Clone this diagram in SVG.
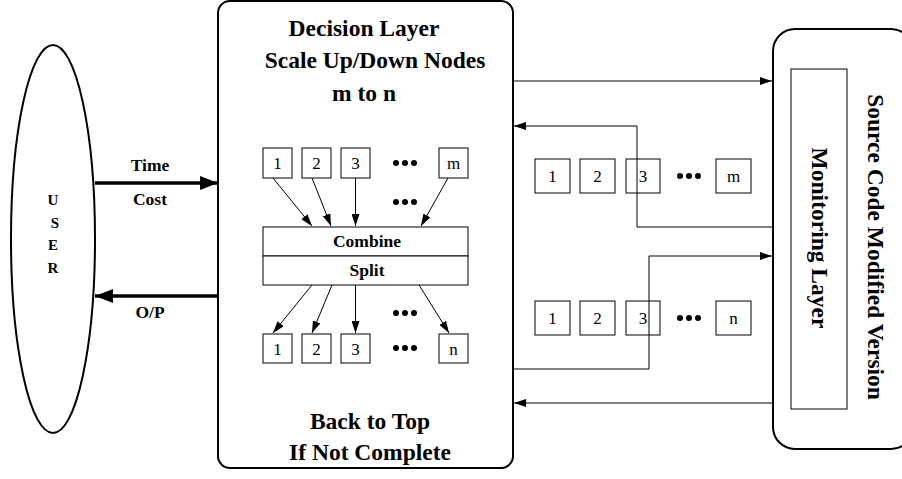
<svg xmlns="http://www.w3.org/2000/svg" width="902" height="479" viewBox="0 0 902 479">
<defs>
<style>
.t{font-family:"Liberation Serif","Times New Roman",serif;font-weight:bold;fill:#000;text-anchor:middle}
.big{font-size:23.5px}
.lab{font-size:17.5px}
.n{font-family:"Liberation Serif","Times New Roman",serif;font-size:17px;fill:#000;text-anchor:middle}
.box{fill:#fff;stroke:#000;stroke-width:1}
.ln{fill:none;stroke:#000;stroke-width:1}
.thick{fill:none;stroke:#000;stroke-width:3.5}
.outer{fill:#fff;stroke:#000;stroke-width:2}
.dot{fill:#000}
</style>
<marker id="ah" markerWidth="12" markerHeight="8" refX="12" refY="4" orient="auto" markerUnits="userSpaceOnUse">
<path d="M0,0 L12,4 L0,8 z" fill="#000"/>
</marker>
<marker id="ahb" markerWidth="18" markerHeight="14" refX="18" refY="7" orient="auto" markerUnits="userSpaceOnUse">
<path d="M0,0 L18,7 L0,14 z" fill="#000"/>
</marker>
<symbol id="dots" overflow="visible">
<circle cx="-9" cy="0" r="3"/><circle cx="0" cy="0" r="3"/><circle cx="9" cy="0" r="3"/>
</symbol>
</defs>
<rect width="902" height="479" fill="#fff"/>

<g id="user">
<ellipse cx="53" cy="239" rx="42" ry="194" fill="#fff" stroke="#000" stroke-width="2"/>
<text class="t" x="53" y="205" font-size="15">U</text>
<text class="t" x="55" y="228" font-size="15">S</text>
<text class="t" x="53" y="250" font-size="15">E</text>
<text class="t" x="53" y="273" font-size="15">R</text>
</g>

<g id="decision">
<rect class="outer" x="218" y="1" width="295" height="467" rx="12"/>
<text class="t big" x="364" y="36">Decision Layer</text>
<text class="t big" x="375" y="68">Scale Up/Down Nodes</text>
<text class="t big" x="364" y="101">m to n</text>
<text class="t big" x="370" y="429">Back to Top</text>
<text class="t big" x="370" y="460">If Not Complete</text>
</g>

<g id="top-nodes">
<rect class="box" x="263" y="148" width="29" height="30"/><text class="n" x="277.5" y="169">1</text>
<rect class="box" x="302" y="148" width="29" height="30"/><text class="n" x="316.5" y="169">2</text>
<rect class="box" x="341" y="148" width="29" height="30"/><text class="n" x="355.5" y="169">3</text>
<use href="#dots" x="405" y="163" class="dot"/>
<rect class="box" x="439" y="148" width="29" height="30"/><text class="n" x="453.5" y="169">m</text>
<use href="#dots" x="405" y="202" class="dot"/>
</g>

<g id="combine-split">
<rect class="box" x="263" y="227" width="205" height="29"/>
<text class="t lab" x="367" y="247">Combine</text>
<rect class="box" x="263" y="256" width="205" height="29"/>
<text class="t lab" x="367" y="276">Split</text>
</g>

<g id="bottom-nodes">
<use href="#dots" x="405" y="313" class="dot"/>
<rect class="box" x="263" y="334" width="29" height="29"/><text class="n" x="277.5" y="355">1</text>
<rect class="box" x="302" y="334" width="29" height="29"/><text class="n" x="316.5" y="355">2</text>
<rect class="box" x="341" y="334" width="29" height="29"/><text class="n" x="355.5" y="355">3</text>
<use href="#dots" x="405" y="348" class="dot"/>
<rect class="box" x="439" y="334" width="29" height="29"/><text class="n" x="453.5" y="355">n</text>
</g>

<g id="monitor">
<rect class="outer" x="773" y="29" width="140" height="420" rx="22"/>
<rect class="box" x="791" y="69" width="56" height="340" stroke="#333"/>
<text class="t big" transform="translate(812,238) rotate(90)">Monitoring Layer</text>
<text class="t big" transform="translate(868,247) rotate(90)">Source Code Modified Version</text>
</g>

<g id="mid-nodes-top">
<rect class="box" x="535" y="159" width="35" height="34"/><text class="n" x="552.5" y="182">1</text>
<rect class="box" x="580" y="159" width="35" height="34"/><text class="n" x="597.5" y="182">2</text>
<rect class="box" x="626" y="159" width="34" height="34"/><text class="n" x="643" y="182">3</text>
<use href="#dots" x="689" y="176" class="dot"/>
<rect class="box" x="716" y="159" width="35" height="34"/><text class="n" x="733.5" y="182">m</text>
</g>

<g id="mid-nodes-bottom">
<rect class="box" x="535" y="301" width="35" height="34"/><text class="n" x="552.5" y="324">1</text>
<rect class="box" x="580" y="301" width="35" height="34"/><text class="n" x="597.5" y="324">2</text>
<rect class="box" x="626" y="301" width="34" height="34"/><text class="n" x="643" y="324">3</text>
<use href="#dots" x="689" y="318" class="dot"/>
<rect class="box" x="716" y="301" width="35" height="34"/><text class="n" x="733.5" y="324">n</text>
</g>

<g id="connectors">
<line class="thick" x1="95" y1="183" x2="218" y2="183" marker-end="url(#ahb)"/>
<text class="t lab" x="150" y="171">Time</text>
<text class="t lab" x="150" y="205">Cost</text>
<line class="thick" x1="218" y1="296" x2="95" y2="296" marker-end="url(#ahb)"/>
<text class="t lab" x="150" y="318">O/P</text>

<line class="ln" x1="273" y1="178" x2="312" y2="226" marker-end="url(#ah)"/>
<line class="ln" x1="312" y1="178" x2="331" y2="226" marker-end="url(#ah)"/>
<line class="ln" x1="355.5" y1="178" x2="355.5" y2="226" marker-end="url(#ah)"/>
<line class="ln" x1="448" y1="178" x2="421" y2="226" marker-end="url(#ah)"/>

<line class="ln" x1="312" y1="285" x2="273" y2="333" marker-end="url(#ah)"/>
<line class="ln" x1="332" y1="285" x2="312" y2="333" marker-end="url(#ah)"/>
<line class="ln" x1="355.5" y1="285" x2="355.5" y2="333" marker-end="url(#ah)"/>
<line class="ln" x1="419" y1="285" x2="449" y2="333" marker-end="url(#ah)"/>

<line class="ln" x1="514" y1="81" x2="772" y2="81" marker-end="url(#ah)"/>
<polyline class="ln" points="772,227 637,227 637,126 514,126" marker-end="url(#ah)"/>
<polyline class="ln" points="514,369 649,369 649,256 772,256" marker-end="url(#ah)"/>
<line class="ln" x1="772" y1="403" x2="514" y2="403" marker-end="url(#ah)"/>
</g>
</svg>
